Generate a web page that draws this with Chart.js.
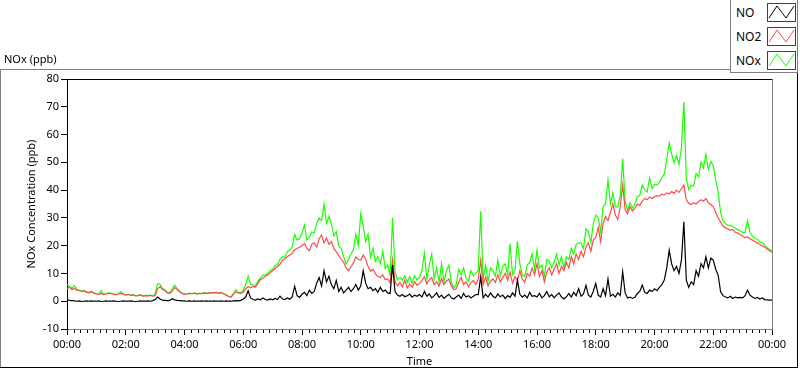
<!DOCTYPE html>
<html>
<head>
<meta charset="utf-8">
<script src="https://cdn.jsdelivr.net/npm/chart.js@4.4.1/dist/chart.umd.min.js"></script>
<style>
  body { margin: 0; background: #fff; font-family: "Noto Sans", sans-serif; }
  #wrap { position: relative; width: 800px; height: 369px; overflow: hidden; }
  #chart { position: absolute; left: 0; top: 0; }
  .txt { position: absolute; font-size: 11px; color: #000; line-height: 14px; }
  .ln { position: absolute; }
  #legend { position: absolute; left: 730px; top: -1px; width: 66px; height: 72px;
            border: 1px solid #808080; background: #fff; }
  .lrow { position: absolute; left: 5px; font-size: 12px; line-height: 15px; }
  .lbox { position: absolute; left: 36px; }
</style>
</head>
<body>
<div id="wrap">
  <canvas id="chart" width="800" height="369"></canvas>
  <div class="txt" style="left:4px; top:52px;">NOx (ppb)</div>
  <div class="ln" style="left:0; top:69px; width:730px; height:1px; background:#808080;"></div>
  <div class="ln" style="left:0; top:69px; width:1px; height:299px; background:#808080;"></div>
  <div class="ln" style="left:0; top:367px; width:798px; height:1px; background:#000;"></div>
  <div class="ln" style="left:797px; top:72px; width:1px; height:296px; background:#000;"></div>
  <div id="legend"></div>
</div>
<script>
// 5 minute samples, 00:00 .. 24:00
const NO = [
  0.5, 0.3, 0.2, 0.1, 0.0, 0.1, -0.1, 0.0, 0.1, 0.0, 0.1, 0.0,
  0.0, 0.1, -0.1, 0.0, 0.1, 0.0, 0.0, 0.1, 0.0, -0.1, 0.0, 0.1,
  0.0, 0.0, 0.1, 0.0, -0.1, 0.0, 0.1, 0.0, 0.0, 0.1, 0.0, 0.2,
  0.6, 1.5, 0.8, 0.4, 0.3, 0.2, 0.3, 0.9, 0.5, 0.3, 0.2, 0.1,
  0.1, 0.0, 0.1, 0.0, 0.1, 0.0, 0.0, 0.1, 0.0, 0.1, 0.0, 0.0,
  0.1, 0.0, 0.0, 0.1, 0.0, 0.1, 0.0, 0.0, 0.1, 0.2, 0.1, 0.3,
  0.8, 1.5, 3.8, 1.2, 0.6, 0.4, 0.8, 0.5, 1.2, 0.6, 0.4, 0.8,
  0.5, 1.0, 0.6, 1.8, 0.8, 0.6, 1.2, 0.7, 1.5, 5.4, 2.0, 1.4,
  2.5, 3.2, 2.0, 4.0, 2.8, 3.5, 6.5, 8.5, 5.5, 11.0, 7.0, 9.0,
  6.0, 4.5, 7.5, 3.5, 5.0, 3.0, 4.0, 5.0, 3.5, 4.5, 6.0, 4.0,
  5.5, 11.0, 6.5, 4.5, 5.0, 3.8, 4.5, 3.2, 5.0, 3.5, 4.0, 3.0,
  2.8, 13.0, 3.5, 2.2, 1.8, 2.4, 1.6, 2.0, 2.6, 1.5, 2.2, 1.8,
  2.4, 1.5, 3.5, 1.8, 2.6, 1.2, 2.0, 3.0, 1.4, 2.2, 1.0, 1.8,
  2.5, 1.2, 0.8, 1.5, 2.2, 1.0, 2.8, 1.5, 2.0, 1.2, 1.8, 2.4,
  2.4, 8.8, 1.2, 2.5, 1.5, 3.0, 1.8, 1.2, 2.6, 1.6, 2.2, 1.0,
  2.0, 1.4, 3.0, 1.8, 7.6, 2.5, 1.5, 2.2, 1.2, 3.2, 1.8, 2.0,
  1.5, 2.8, 1.2, 2.0, 3.5, 1.6, 2.4, 1.2, 2.2, 3.0, 1.5, 0.8,
  1.6, 2.8, 1.5, 3.2, 2.0, 4.5, 1.8, 2.6, 5.7, 2.2, 1.5, 3.6,
  6.4, 2.2, 1.5, 4.5, 2.0, 8.0, 1.8, 2.5, 1.5, 3.0, 2.0, 10.6,
  3.0, 1.2, 1.5, 1.0, 1.4, 2.8, 3.5, 5.8, 3.2, 2.8, 4.0, 3.5,
  4.5, 3.8, 5.0, 6.0, 7.6, 12.0, 18.4, 13.5, 11.0, 12.5, 10.0, 14.8,
  28.6, 7.6, 5.0, 7.0, 6.0, 11.0, 9.0, 13.5, 12.0, 16.0, 12.0, 15.5,
  14.8, 11.5, 9.4, 3.4, 2.0, 1.5, 1.2, 1.8, 1.0, 1.5, 1.2, 1.4,
  1.2, 2.0, 4.0, 2.2, 1.5, 1.0, 1.4, 0.8, 1.2, 0.6, 0.5, 0.4,
  0.4
];
const NO2 = [
  4.5, 5.0, 4.2, 4.6, 4.0, 3.8, 3.5, 3.7, 3.2, 3.0, 3.3, 2.9,
  2.6, 2.5, 2.8, 2.4, 2.6, 2.9, 2.7, 2.5, 2.3, 2.6, 2.8, 2.5,
  2.2, 2.4, 2.1, 2.3, 1.9, 2.0, 2.2, 1.8, 2.0, 1.9, 2.1, 1.8,
  2.0, 4.5, 5.3, 4.2, 3.8, 3.0, 2.8, 3.6, 4.9, 4.2, 3.4, 2.8,
  2.5, 2.6, 2.8, 2.7, 2.9, 2.6, 2.8, 2.7, 3.0, 2.8, 2.9, 3.1,
  3.0, 3.2, 2.9, 3.1, 2.7, 2.2, 1.7, 1.5, 2.6, 3.3, 3.0, 2.8,
  3.2, 4.5, 5.2, 4.8, 5.3, 5.0, 6.5, 7.8, 8.2, 9.0, 9.5, 10.2,
  11.0, 11.8, 12.5, 13.3, 14.8, 15.2, 16.0, 16.6, 17.3, 18.5, 19.0, 19.4,
  20.0, 20.8, 19.0, 18.2, 20.5, 21.0, 19.5, 22.5, 23.8, 21.0, 22.8, 20.5,
  21.5, 19.0, 17.8, 16.5, 15.2, 14.0, 12.0, 11.0, 12.4, 13.8, 16.0, 15.0,
  14.8, 16.6, 15.0, 12.5, 10.8, 11.5, 9.8, 9.0, 8.5, 9.5, 7.8, 8.0,
  6.5, 15.0, 7.0, 5.5, 6.8, 5.2, 7.5, 4.8, 6.2, 5.0, 7.0, 5.8,
  6.4, 7.5, 8.8, 6.2, 7.8, 8.5, 6.0, 7.0, 5.5, 8.2, 6.0, 7.2,
  8.0, 5.5, 4.2, 4.5, 6.8, 8.5, 6.0, 7.0, 5.2, 6.8, 7.4, 6.0,
  8.0, 14.8, 6.0, 8.8, 5.5, 7.2, 8.0, 6.8, 9.5, 7.0, 8.5, 10.0,
  7.5, 10.5, 6.5, 8.8, 7.5, 11.0, 8.0, 6.8, 10.0, 9.0, 12.0, 9.5,
  13.5, 9.0, 11.0, 7.0, 10.5, 12.0, 9.5, 11.5, 13.5, 10.0, 12.5, 11.0,
  14.0, 12.0, 16.0, 13.5, 17.0, 15.0, 18.0, 16.0, 19.5, 21.0, 18.0, 22.0,
  23.0, 26.5, 21.5, 28.0, 30.5, 29.0, 32.0, 35.0, 31.0, 29.5, 34.0, 41.8,
  33.0, 31.5, 34.0, 32.5, 33.5, 35.0, 34.5, 36.0, 37.0, 36.5, 37.5, 37.0,
  37.6, 38.0, 37.8, 38.5, 38.2, 39.0, 38.6, 39.5, 38.8, 40.0, 39.2, 40.5,
  41.8, 36.5, 35.2, 34.8, 35.5, 35.0, 35.8, 36.5, 36.0, 37.0, 35.5, 34.8,
  34.0, 32.0, 30.0, 28.5, 27.0, 26.5, 26.0, 25.5, 25.8, 24.8, 24.5, 24.0,
  23.5, 22.8, 23.2, 22.5, 22.0, 21.5, 21.0, 20.5, 20.0, 19.5, 18.8, 18.2,
  17.6
];
const NOX = [
  6.0, 5.4, 4.6, 5.6, 4.2, 4.0, 3.6, 3.9, 3.4, 3.2, 3.6, 3.0,
  2.7, 2.6, 3.8, 2.5, 2.7, 3.0, 2.8, 2.6, 2.4, 2.7, 3.4, 2.7,
  2.3, 2.5, 2.2, 2.4, 2.0, 2.1, 2.4, 1.9, 2.1, 2.0, 2.2, 2.0,
  2.6, 6.3, 6.1, 4.6, 4.1, 3.2, 3.1, 4.5, 5.8, 4.5, 3.6, 2.9,
  2.6, 2.6, 2.9, 2.7, 3.0, 2.6, 2.8, 2.8, 3.0, 2.9, 2.9, 3.1,
  3.1, 3.2, 2.9, 3.2, 2.7, 2.3, 1.7, 1.5, 2.7, 4.2, 3.1, 3.1,
  4.0, 6.0, 9.0, 6.0, 5.9, 5.4, 7.3, 8.3, 9.4, 9.6, 9.9, 11.0,
  11.5, 12.8, 13.1, 15.1, 16.0, 15.8, 17.8, 18.4, 19.5, 24.0, 22.0, 22.5,
  24.5, 27.4, 22.0, 23.0, 25.0, 24.5, 28.0, 30.0, 29.0, 35.0, 28.0, 30.5,
  28.0, 23.5, 25.0, 20.0, 19.0, 16.0, 13.5, 15.0, 17.0, 18.5, 24.0, 20.0,
  31.5, 27.0, 21.5, 24.0, 15.8, 19.0, 14.3, 16.0, 13.5, 18.0, 11.8, 13.0,
  9.3, 30.0, 10.5, 7.7, 8.6, 7.6, 9.1, 6.8, 8.8, 6.5, 9.2, 7.6,
  8.8, 11.0, 17.4, 8.0, 13.0, 17.0, 8.0, 12.0, 6.9, 13.5, 7.0, 11.0,
  13.0, 6.7, 5.0, 6.0, 11.5, 9.5, 12.0, 8.5, 7.2, 11.0, 9.2, 10.0,
  11.0, 32.4, 8.0, 13.0, 7.0, 12.0, 11.0, 9.0, 14.8, 9.0, 12.5, 13.5,
  9.5, 20.8, 9.5, 11.0, 21.6, 13.5, 9.5, 9.0, 13.0, 14.0, 17.0, 11.5,
  18.4, 12.0, 13.0, 9.0, 15.0, 14.5, 12.0, 14.0, 17.0, 13.0, 16.0, 12.0,
  16.0, 15.0, 19.0, 17.0, 20.5, 21.0, 21.0, 19.0, 26.0, 25.0, 21.0, 28.0,
  31.0, 30.0, 25.0, 34.0, 35.0, 43.6, 35.0, 39.0, 34.0, 34.0, 38.0, 51.4,
  36.0, 32.7, 35.5, 33.5, 35.0, 37.8, 38.0, 41.8, 40.2, 39.3, 44.4, 40.5,
  42.1, 41.8, 42.8, 44.5, 45.8, 51.0, 57.0, 53.0, 49.8, 52.5, 49.2, 55.3,
  71.8, 44.1, 40.2, 41.8, 41.5, 46.0, 44.8, 50.0, 48.0, 53.0, 47.5, 50.3,
  48.8, 43.5, 39.4, 31.9, 29.0, 28.0, 27.2, 27.3, 26.8, 26.3, 25.7, 25.4,
  24.7, 24.8, 29.0, 24.7, 23.5, 22.5, 22.4, 21.3, 21.2, 20.1, 19.3, 18.6,
  18.0
];

const seriesNames = ["NO", "NO2", "NOx"];
const seriesColors = ["#000000", "#ff4a4a", "#19ff00"];
const yTicks = [-10, 0, 10, 20, 30, 40, 50, 60, 70, 80];

// sample times in minutes since midnight
const times = [];
for (let i = 0; i < NO.length; i++) times.push(i * 5);

const fontSpec = { family: "Noto Sans", size: 11 };

function hhmm(v) {
  const m = Math.round(v) % 1440;
  const h = Math.floor(m / 60), mm = m % 60;
  return String(h).padStart(2, "0") + ":" + String(mm).padStart(2, "0");
}

// minor ticks on time axis + plot frame (top black, right grey)
const framePlugin = {
  id: "frame",
  afterDraw(chart) {
    const ctx = chart.ctx, a = chart.chartArea, xs = chart.scales.x;
    ctx.save();
    ctx.lineWidth = 1;
    ctx.strokeStyle = "#000";
    ctx.beginPath();
    for (let k = 0; k <= 108; k++) {
      if (k % 9 === 0) continue;
      const x = Math.round(xs.getPixelForValue(k * 120 / 9)) + 0.5;
      ctx.moveTo(x, a.bottom + 1);
      ctx.lineTo(x, a.bottom + 4);
    }
    ctx.stroke();
    ctx.beginPath();
    ctx.moveTo(Math.round(a.left), Math.round(a.top) + 0.5);
    ctx.lineTo(Math.round(a.right) + 1, Math.round(a.top) + 0.5);
    ctx.stroke();
    ctx.strokeStyle = "#808080";
    ctx.beginPath();
    ctx.moveTo(Math.round(a.right) + 0.5, Math.round(a.top));
    ctx.lineTo(Math.round(a.right) + 0.5, Math.round(a.bottom) + 1);
    ctx.stroke();
    ctx.restore();
  }
};

new Chart(document.getElementById("chart"), {
  type: "line",
  data: {
    labels: times,
    datasets: [
      { label: seriesNames[0], data: NO, borderColor: seriesColors[0] },
      { label: seriesNames[1], data: NO2, borderColor: seriesColors[1] },
      { label: seriesNames[2], data: NOX, borderColor: seriesColors[2] }
    ]
  },
  options: {
    responsive: false,
    animation: false,
    events: [],
    layout: { padding: { left: 0, top: 79, right: 28, bottom: 0 } },
    elements: {
      point: { radius: 0 },
      line: { borderWidth: 1.2, tension: 0 }
    },
    plugins: { legend: { display: false }, tooltip: { enabled: false } },
    scales: {
      x: {
        type: "linear",
        min: 0,
        max: 1440,
        afterFit(s) { s.height = 40; },
        ticks: {
          stepSize: 120,
          autoSkip: false,
          maxRotation: 0,
          padding: 3,
          color: "#000",
          font: fontSpec,
          callback: (v) => hhmm(v)
        },
        grid: { drawOnChartArea: false, tickLength: 6, color: "#000" },
        border: { color: "#808080" },
        title: { display: true, text: "Time", color: "#000", font: fontSpec, padding: { top: 0, bottom: 1 } }
      },
      y: {
        min: -10,
        max: 80,
        afterFit(s) { s.width = 67; },
        afterBuildTicks(s) { s.ticks = yTicks.map(v => ({ value: v })); },
        ticks: { padding: 2, color: "#000", font: fontSpec },
        grid: { drawOnChartArea: false, tickLength: 6, color: "#000" },
        border: { color: "#000" },
        title: { display: true, text: "NOx Concentration (ppb)", color: "#000", font: fontSpec, padding: { top: 25, bottom: 0 } }
      }
    }
  },
  plugins: [framePlugin]
});

// legend: name + small box with a zigzag sample
const legend = document.getElementById("legend");
seriesNames.forEach((name, i) => {
  const top = 3 + i * 24;
  const lab = document.createElement("div");
  lab.className = "lrow";
  lab.style.top = (top + 2) + "px";
  lab.textContent = name;
  legend.appendChild(lab);
  const box = document.createElementNS("http://www.w3.org/2000/svg", "svg");
  box.setAttribute("class", "lbox");
  box.setAttribute("width", "29");
  box.setAttribute("height", "19");
  box.style.top = top + "px";
  box.innerHTML =
    '<rect x="0.5" y="0.5" width="28" height="18" fill="#fff" stroke="#404040"/>' +
    '<polyline points="2,15 10,3 19,15 27,3" fill="none" stroke="' + seriesColors[i] + '" stroke-width="1"/>';
  legend.appendChild(box);
});
</script>
</body>
</html>
